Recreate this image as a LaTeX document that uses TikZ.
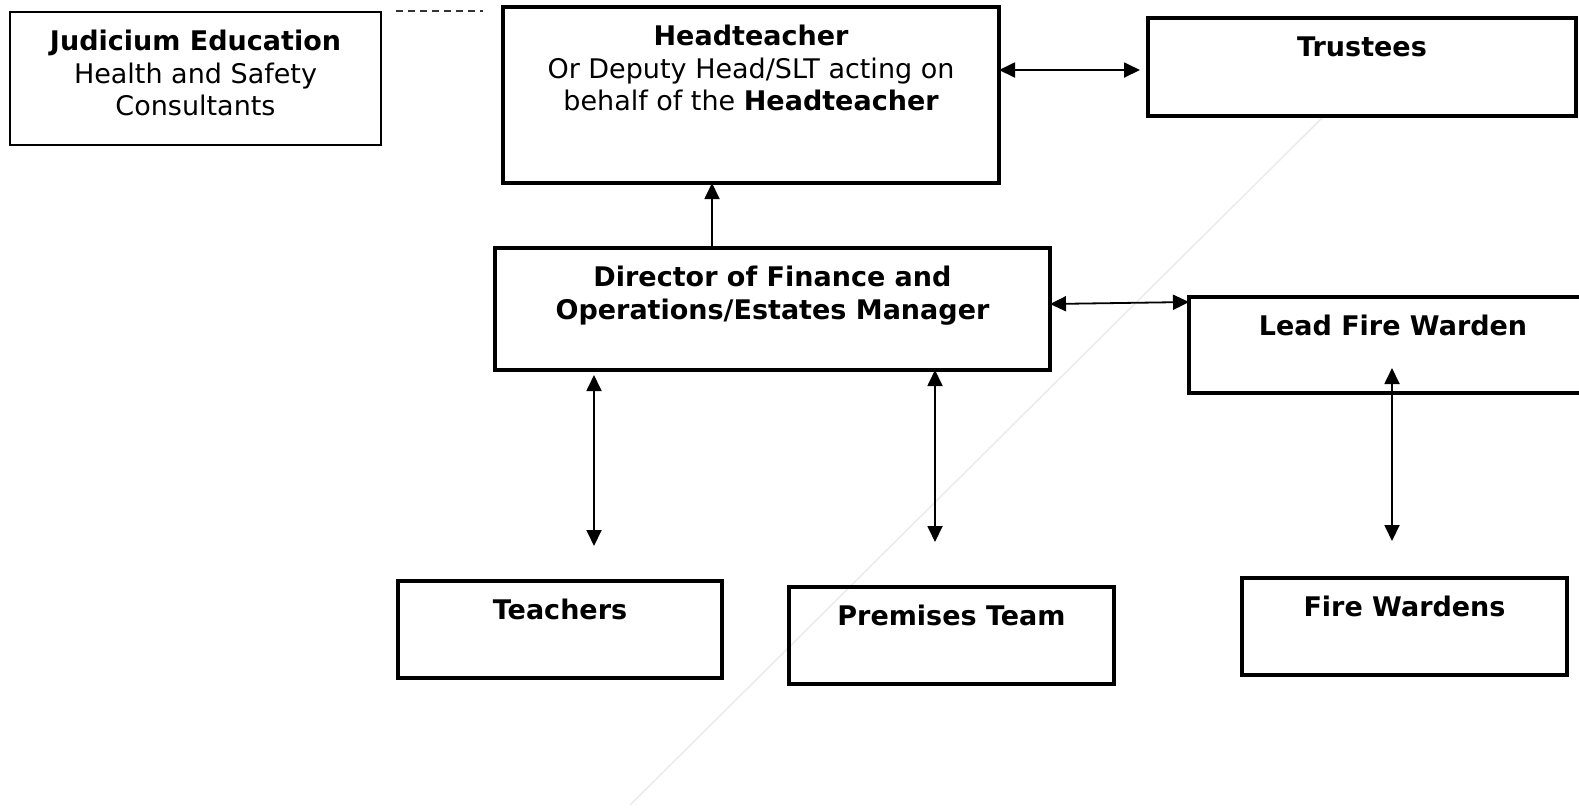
\documentclass[tikz,border=0pt]{standalone}
\usepackage{fontspec}
\setmainfont{DejaVu Sans}
\usetikzlibrary{arrows.meta}
\usetikzlibrary{positioning}

\tikzset{
  >={Triangle[length=8pt,width=7.5pt]},
  orgbox/.style={draw, line width=1.7pt, inner sep=0pt, outer sep=0pt},
  lbl/.style={anchor=north, yshift=-9pt, inner sep=0pt, align=center,
    font=\fontsize{13.5}{16.25}\selectfont},
  link/.style={line width=0.9pt}
}

\begin{document}
\begin{tikzpicture}[x=0.5pt,y=-0.5pt]
  \useasboundingbox (0,0) rectangle (1579,811);
  \clip (0,0) rectangle (1579,811);
  % faint diagonal trace
  \draw[gray!15, line width=0.8pt] (1325,115) -- (630,805);
  % boxes
  \node[orgbox, line width=1pt, minimum width=185.5pt, minimum height=66.5pt,
    label={[lbl]north:\textbf{Judicium Education}\\Health and Safety\\Consultants}] (jud) at (195.5,78.5) {};
  \node[orgbox, minimum width=248pt, minimum height=88pt,
    label={[lbl]north:\textbf{Headteacher}\\Or Deputy Head/SLT acting on\\behalf of the \textbf{Headteacher}}] (head) at (751,95) {};
  \node[orgbox, minimum width=214pt, minimum height=49pt,
    label={[lbl]north:\textbf{Trustees}}] (trust) at (1362,67) {};
  \node[orgbox, minimum width=277.5pt, minimum height=61pt,
    label={[lbl]north:\textbf{Director of Finance and}\\\textbf{Operations/Estates Manager}}] (dfo) at (772.5,309) {};
  \node[orgbox, minimum width=204pt, minimum height=48pt,
    label={[lbl]north:\textbf{Lead Fire Warden}}] (lfw) at (1393,345) {};
  \node[orgbox, minimum width=162pt, minimum height=48.5pt,
    label={[lbl]north:\textbf{Teachers}}] (teach) at (560,629.5) {};
  \node[orgbox, minimum width=162.5pt, minimum height=48.5pt,
    label={[lbl]north:\textbf{Premises Team}}] (prem) at (951.5,635.5) {};
  \node[orgbox, minimum width=162.5pt, minimum height=48.5pt,
    label={[lbl]north:\textbf{Fire Wardens}}] (fire) at (1404.5,626.5) {};
  % dashed link to the consultants
  \coordinate (dashA) at (396,11);
  \coordinate (dashB) at (483,11);
  \draw[black!80, line width=1pt, dash pattern=on 3.5pt off 2.5pt] (dashA) -- (dashB);
  % connectors
  \draw[link,<->] ([yshift=12.5pt]head.east) -- ([xshift=-4pt,yshift=-1.5pt]trust.west);
  \draw[link,->] ([xshift=-30.25pt]dfo.north) -- ([xshift=-19.5pt]head.south);
  \draw[link,<->] ([yshift=2.5pt]dfo.east) -- ([yshift=-2.5pt]lfw.north west);
  \draw[link,<->] ([xshift=-89.25pt,yshift=-2.5pt]dfo.south) -- ([xshift=17pt,yshift=17.5pt]teach.north);
  \draw[link,<->] ([xshift=81.25pt]dfo.south) -- ([xshift=-8.25pt,yshift=22.5pt]prem.north);
  \draw[link,<->] ([xshift=-0.5pt,yshift=12.5pt]lfw.south) -- ([xshift=-6.25pt,yshift=18.5pt]fire.north);
\end{tikzpicture}
\end{document}
